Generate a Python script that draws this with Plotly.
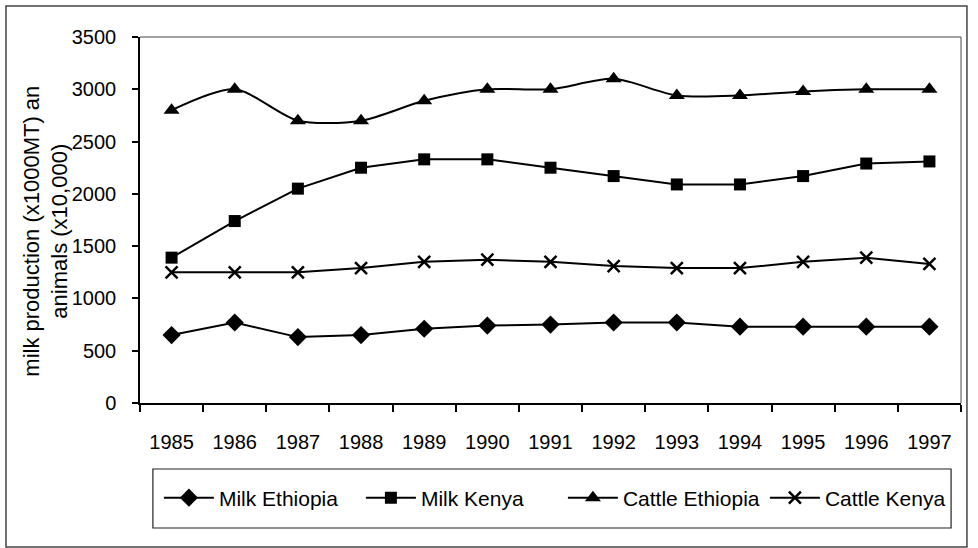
import plotly.graph_objects as go

years = ["1985", "1986", "1987", "1988", "1989", "1990", "1991",
         "1992", "1993", "1994", "1995", "1996", "1997"]
milk_ethiopia = [650, 770, 630, 650, 710, 740, 750, 770, 770, 730, 730, 730, 730]
milk_kenya = [1390, 1740, 2050, 2250, 2330, 2330, 2250, 2170, 2090, 2090, 2170, 2290, 2310]
cattle_ethiopia = [2800, 3000, 2700, 2700, 2890, 3000, 3000, 3100, 2940, 2940, 2980, 3000, 3000]
cattle_kenya = [1250, 1250, 1250, 1290, 1350, 1370, 1350, 1310, 1290, 1290, 1350, 1390, 1330]
y_ticks = [0, 500, 1000, 1500, 2000, 2500, 3000, 3500]

W, H = 978, 548
L, R, T, B = 140, 11, 37, 145
PW, PH = W - L - R, H - T - B

def px(x):
    return (x - L) / PW

def py(y):
    return (H - B - y) / PH

FONT = "Liberation Sans, Arial, sans-serif"
xs = list(range(len(years)))

fig = go.Figure()
fig.add_trace(go.Scatter(x=xs, y=milk_ethiopia, name="Milk Ethiopia", mode="lines+markers",
                         line=dict(color="black", width=2),
                         marker=dict(symbol="diamond", size=14, color="black")))
fig.add_trace(go.Scatter(x=xs, y=milk_kenya, name="Milk Kenya", mode="lines+markers",
                         line=dict(color="black", width=2),
                         marker=dict(symbol="square", size=12, color="black")))
fig.add_trace(go.Scatter(x=xs, y=cattle_ethiopia, name="Cattle Ethiopia", mode="lines+markers",
                         line=dict(color="black", width=2, shape="spline", smoothing=0.8),
                         marker=dict(symbol="triangle-up", size=14, color="black")))
fig.add_trace(go.Scatter(x=xs, y=cattle_kenya, name="Cattle Kenya", mode="lines+markers",
                         line=dict(color="black", width=2),
                         marker=dict(symbol="x-thin", size=12, color="black",
                                     line=dict(color="black", width=2.5))))

fig.update_layout(
    width=W, height=H,
    margin=dict(l=L, r=R, t=T, b=B),
    paper_bgcolor="white", plot_bgcolor="white",
    font=dict(family=FONT, size=20, color="black"),
    showlegend=True,
    legend=dict(orientation="h", x=px(566), xanchor="center", y=py(498), yanchor="middle",
                bgcolor="rgba(0,0,0,0)", borderwidth=0, itemwidth=50,
                entrywidth=137, entrywidthmode="pixels",
                font=dict(family=FONT, size=21), traceorder="normal"),
    xaxis=dict(range=[-0.5, len(years) - 0.5], tickmode="array", tickvals=xs, ticktext=years,
               ticks="", showgrid=False, zeroline=False, showline=True, linecolor="black",
               linewidth=1.5, mirror=False, ticklabelstandoff=20,
               tickfont=dict(family=FONT, size=20),
               minor=dict(tickmode="array", tickvals=[i - 0.5 for i in range(len(years) + 1)],
                          ticks="outside", ticklen=7, tickcolor="black", tickwidth=1.5)),
    yaxis=dict(range=[0, 3500], tickmode="array", tickvals=y_ticks,
               ticks="outside", ticklen=6, tickcolor="black", tickwidth=1.5,
               showgrid=False, zeroline=False, showline=True, linecolor="black", linewidth=1.5,
               ticklabelstandoff=12, tickfont=dict(family=FONT, size=20)),
)

# plot-area border (top and right)
fig.add_shape(type="line", xref="paper", yref="paper", x0=0, x1=1, y0=1, y1=1,
              line=dict(color="#444", width=1.2))
fig.add_shape(type="line", xref="paper", yref="paper", x0=1, x1=1, y0=0, y1=1,
              line=dict(color="#666", width=1.2))
# legend box
fig.add_shape(type="rect", xref="paper", yref="paper", x0=px(153), x1=px(957),
              y0=py(528), y1=py(469), line=dict(color="#222", width=1.2))
# outer chart frame
fig.add_shape(type="rect", xref="paper", yref="paper", x0=px(5), x1=px(973),
              y0=py(547), y1=py(6), line=dict(color="#444", width=1.5))

fig.add_annotation(xref="paper", yref="paper", x=px(45), y=py(231),
                   text="milk production (x1000MT) an<br>animals (x10,000)",
                   textangle=-90, showarrow=False, xanchor="center", yanchor="middle",
                   font=dict(family=FONT, size=22))

fig.write_html("out.html")
